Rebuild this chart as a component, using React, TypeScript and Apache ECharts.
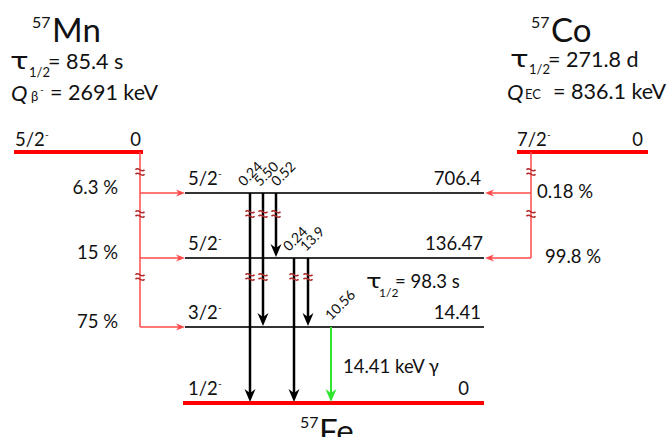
import { useEffect, useRef } from "react";
import * as echarts from "echarts";

// ---------------- data ----------------
const massNumber = "57";
const parentNuclides = ["Mn", "Co"];
const parentSpins = ["5/2", "7/2"];
const parentParities = ["-", "-"];
const parentEnergies = ["0", "0"];
const parentHalfLives = ["85.4 s", "271.8 d"];
const parentDecayModes = ["β", "EC"];
const parentDecaySups = ["-", ""];
const parentQValues = ["2691 keV", "836.1 keV"];
const daughterNuclide = "Fe";

const levelEnergies = [706.4, 136.47, 14.41, 0];
const levelEnergyLabels = ["706.4", "136.47", "14.41", "0"];
const levelSpins = ["5/2", "5/2", "3/2", "1/2"];
const levelParities = ["-", "-", "-", "-"];

const mnFeedLevels = [706.4, 136.47, 14.41];
const mnFeedPercents = ["6.3 %", "15 %", "75 %"];
const coFeedLevels = [706.4, 136.47];
const coFeedPercents = ["0.18 %", "99.8 %"];

const gammaFrom = [706.4, 706.4, 706.4, 136.47, 136.47, 14.41];
const gammaTo = [0, 14.41, 136.47, 0, 14.41, 0];
const gammaIntensities = ["0.24", "5.50", "0.52", "0.24", "13.9", "10.56"];
const gammaHighlighted = [false, false, false, false, false, true];

const isomerHalfLife = "98.3 s";
const gammaLineLabel = "14.41 keV γ";

// ---------------- layout / style ----------------
const W = 667;
const H = 437;
const FONT = "Lato, 'Noto Sans', sans-serif";
const GREEK = "'DejaVu Sans', 'Noto Sans', sans-serif";
const TEXT = "#111111";
const RED = "#ff0000";
const FEED_RED = "#ff4a4a";
const SQUIG = "#b02a2a";
const LEVEL_GRAY = "#333333";
const GREEN = "#2fe62f";

const levelRowY = [193, 258, 327, 403];
const parentLineY = 152;
const breakY = [172, 214, 277];
const levelX1 = 185;
const levelX2 = 484;
const groundX1 = 183;
const levelEnergyRight = [481, 483, 481, 469];
const gammaX = [250, 263, 276, 294, 308, 331];
const gammaLabelDX = [-6, -3, 1, -5, -2, 0];
const mnFeedX = 140;
const coFeedX = 531;
const mnLabelRight = 118;
const coLabelLeft = [537, 545];

const parentLayout = [
  {
    massX: 32, nameX: 52, tauX: 10, tauSubX: 29, tauValX: 48, tauY: 61, tauSubY: 72,
    qX: 11, qSubX: 31, qSupX: 40, qValX: 50, qY: 92, qSubY: 96,
    lineX1: 14, lineX2: 143, spinX: 15, energyRight: 141,
  },
  {
    massX: 531, nameX: 551, tauX: 510, tauSubX: 529, tauValX: 548, tauY: 59, tauSubY: 69,
    qX: 507, qSubX: 525, qSupX: 0, qValX: 553, qY: 91, qSubY: 94,
    lineX1: 517, lineX2: 648, spinX: 517, energyRight: 643,
  },
];

function helpers(api: any) {
  const c = (x: number, y: number) => api.coord([x, y]);
  const line = (x1: number, y1: number, x2: number, y2: number, stroke: string, lw: number) => {
    const a = c(x1, y1);
    const b = c(x2, y2);
    return { type: "line", shape: { x1: a[0], y1: a[1], x2: b[0], y2: b[1] }, style: { stroke, lineWidth: lw } };
  };
  const poly = (pts: number[][], fill: string) => ({
    type: "polygon",
    shape: { points: pts.map((p) => c(p[0], p[1])) },
    style: { fill },
  });
  const text = (x: number, y: number, str: string, fs: number, opt: any = {}) => {
    const p = c(x, y);
    return {
      type: "text",
      x: p[0],
      y: p[1],
      rotation: opt.rotation || 0,
      scaleX: opt.scaleX || 1,
      style: {
        text: str,
        fontSize: fs,
        fontFamily: opt.family || FONT,
        fontStyle: opt.italic ? "italic" : "normal",
        fill: opt.fill || TEXT,
        align: opt.align || "left",
        verticalAlign: opt.va || "middle",
      },
    };
  };
  const wave = (x: number, y: number) => {
    const a = c(x - 4.5, y);
    const b = c(x + 4.5, y);
    return {
      type: "bezierCurve",
      shape: { x1: a[0], y1: a[1], x2: b[0], y2: b[1], cpx1: a[0] + 3, cpy1: a[1] - 4, cpx2: b[0] - 3, cpy2: b[1] + 4 },
      style: { stroke: SQUIG, lineWidth: 1.5, fill: "none" },
    };
  };
  const squiggle = (x: number, y: number) => ({ type: "group", children: [wave(x, y - 2.2), wave(x, y + 2.2)] });
  const arrowDown = (x: number, y1: number, y2: number, color: string, lw: number, len: number, w: number) => [
    line(x, y1, x, y2 - len * 0.6, color, lw),
    poly([[x, y2], [x - w / 2, y2 - len], [x, y2 - len * 0.7], [x + w / 2, y2 - len]], color),
  ];
  const arrowH = (x1: number, x2: number, y: number, color: string, lw: number, len: number, w: number) => {
    const d = Math.sign(x2 - x1);
    return [
      line(x1, y, x2 - d * len * 0.6, y, color, lw),
      poly([[x2, y], [x2 - d * len, y - w / 2], [x2 - d * len * 0.7, y], [x2 - d * len, y + w / 2]], color),
    ];
  };
  return { c, line, poly, text, squiggle, arrowDown, arrowH };
}

const rowOf = (e: number) => levelEnergies.indexOf(e);

function renderParent(params: any, api: any) {
  const i = params.dataIndex;
  const L = parentLayout[i];
  const { line, text } = helpers(api);
  const children: any[] = [
    text(L.massX, 21, massNumber, 16),
    text(L.nameX, 29, parentNuclides[i], 33),
    text(L.tauX, L.tauY, "τ", 23, { family: GREEK, scaleX: 1.35 }),
    text(L.tauSubX, L.tauSubY, "1/2", 13),
    text(L.tauValX, L.tauY, "= " + parentHalfLives[i], 21.5),
    text(L.qX, L.qY, "Q", 22, { italic: true }),
    text(L.qSubX, L.qSubY, parentDecayModes[i], 13),
    text(L.qValX, L.qY, "= " + parentQValues[i], 21.5),
    line(L.lineX1, parentLineY, L.lineX2, parentLineY, RED, 4),
    text(L.spinX, parentLineY - 13, parentSpins[i], 18.5),
    text(L.spinX + 30, parentLineY - 18, parentParities[i], 10),
    text(L.energyRight, parentLineY - 13, parentEnergies[i], 18.5, { align: "right" }),
  ];
  if (parentDecaySups[i]) children.push(text(L.qSupX, L.qY - 3, parentDecaySups[i], 10));
  return { type: "group", children };
}

function renderLevel(params: any, api: any) {
  const i = params.dataIndex;
  const { line, text } = helpers(api);
  const y = levelRowY[i];
  const ground = levelEnergies[i] === 0;
  const x1 = ground ? groundX1 : levelX1;
  const children: any[] = [
    line(x1, y, levelX2, y, ground ? RED : LEVEL_GRAY, ground ? 4 : 2),
    text(188, y - 15, levelSpins[i], 18.5),
    text(188 + 30, y - 20, levelParities[i], 10),
    text(levelEnergyRight[i], y - 15, levelEnergyLabels[i], 18.5, { align: "right" }),
  ];
  return { type: "group", children };
}

function renderMnFeed(params: any, api: any) {
  const i = params.dataIndex;
  const { line, text, squiggle, arrowH } = helpers(api);
  const r = rowOf(mnFeedLevels[i]);
  const y = levelRowY[r];
  const prevY = i === 0 ? parentLineY : levelRowY[rowOf(mnFeedLevels[i - 1])];
  const children: any[] = [
    line(mnFeedX, prevY, mnFeedX, y, FEED_RED, 1.5),
    ...arrowH(mnFeedX, levelX1, y, FEED_RED, 1.5, 9, 7),
    squiggle(mnFeedX, breakY[r]),
    text(mnLabelRight, y - 6, mnFeedPercents[i], 18.5, { align: "right" }),
  ];
  return { type: "group", children };
}

function renderCoFeed(params: any, api: any) {
  const i = params.dataIndex;
  const { line, text, squiggle, arrowH } = helpers(api);
  const r = rowOf(coFeedLevels[i]);
  const y = levelRowY[r];
  const prevY = i === 0 ? parentLineY : levelRowY[rowOf(coFeedLevels[i - 1])];
  const children: any[] = [
    line(coFeedX, prevY, coFeedX, y, FEED_RED, 1.5),
    ...arrowH(coFeedX, levelX2 + 1, y, FEED_RED, 1.5, 9, 7),
    squiggle(coFeedX, breakY[r]),
    text(coLabelLeft[i], y - 2, coFeedPercents[i], 18.5),
  ];
  return { type: "group", children };
}

function renderGamma(params: any, api: any) {
  const j = params.dataIndex;
  const { text, squiggle, arrowDown } = helpers(api);
  const a = rowOf(gammaFrom[j]);
  const b = rowOf(gammaTo[j]);
  const x = gammaX[j];
  const color = gammaHighlighted[j] ? GREEN : "#000000";
  const lw = gammaHighlighted[j] ? 2 : 2.5;
  const children: any[] = [...arrowDown(x, levelRowY[a], levelRowY[b] - 1, color, lw, 13, 11)];
  for (let r = a + 1; r <= b && r < breakY.length; r++) children.push(squiggle(x, breakY[r]));
  children.push(
    text(x + gammaLabelDX[j] + 1, levelRowY[a] - 5, gammaIntensities[j], 14, {
      rotation: (45 * Math.PI) / 180,
      va: "bottom",
    })
  );
  return { type: "group", children };
}

function renderNotes(_params: any, api: any) {
  const { text } = helpers(api);
  return {
    type: "group",
    children: [
      text(366, 281, "τ", 20, { family: GREEK, scaleX: 1.3 }),
      text(379, 292, "1/2", 12),
      text(395, 281, "= " + isomerHalfLife, 18.5),
      text(343, 366, gammaLineLabel, 18.5),
      text(300, 421, massNumber, 16),
      text(319, 430, daughterNuclide, 33),
    ],
  };
}

export default function App() {
  const ref = useRef<HTMLDivElement>(null);
  useEffect(() => {
    document.body.style.margin = "0";
    if (!ref.current) return;
    const chart = echarts.init(ref.current, undefined, { renderer: "svg" });
    const base = { type: "custom", coordinateSystem: "cartesian2d", silent: true };
    chart.setOption({
      animation: false,
      backgroundColor: "#ffffff",
      grid: { left: 0, right: 0, top: 0, bottom: 0 },
      xAxis: { type: "value", min: 0, max: W, show: false },
      yAxis: { type: "value", min: 0, max: H, inverse: true, show: false },
      series: [
        { ...base, name: "levels", data: levelEnergies.map((e, i) => [i, e]), renderItem: renderLevel },
        { ...base, name: "parents", data: parentNuclides.map((_, i) => [i, 0]), renderItem: renderParent },
        { ...base, name: "gammas", data: gammaIntensities.map((g, i) => [i, Number(g)]), renderItem: renderGamma },
        { ...base, name: "mnFeeds", data: mnFeedPercents.map((_, i) => [i, mnFeedLevels[i]]), renderItem: renderMnFeed },
        { ...base, name: "coFeeds", data: coFeedPercents.map((_, i) => [i, coFeedLevels[i]]), renderItem: renderCoFeed },
        { ...base, name: "notes", data: [[0, 0]], renderItem: renderNotes },
      ],
    });
    return () => chart.dispose();
  }, []);
  return <div ref={ref} style={{ width: W, height: H }} />;
}
